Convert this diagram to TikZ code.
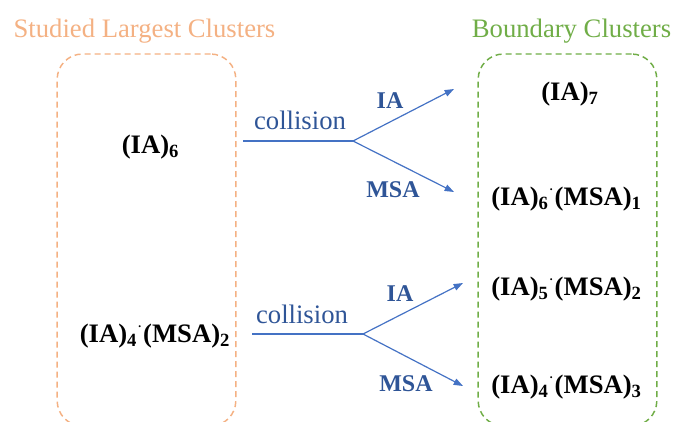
\documentclass[tikz,border=0pt]{standalone}
\usepackage{fontspec}
\IfFontExistsTF{LiberationSerif-Regular.ttf}
  {\setmainfont{LiberationSerif}[Extension=.ttf, UprightFont=*-Regular, BoldFont=*-Bold, ItalicFont=*-Italic, BoldItalicFont=*-BoldItalic]}
  {\setmainfont{Liberation Serif}}
\usepackage{tikz}
\usetikzlibrary{positioning, arrows.meta}

\definecolor{studiedorange}{HTML}{F4B183}
\definecolor{boundgreen}{HTML}{70AD47}
\definecolor{arrowblue}{HTML}{4472C4}
\definecolor{labelblue}{HTML}{2F5597}

\newcommand{\mdot}{\textsuperscript{$\cdot$}}

\begin{document}
\begin{tikzpicture}[
    x=0.75pt, y=-0.75pt,
    groupbox/.style={rectangle, draw, dashed, dash pattern=on 4.5pt off 3pt, line width=1.1pt, rounded corners=19pt, minimum width=134pt, minimum height=279pt},
    heading/.style={font=\fontsize{20}{24}\selectfont, inner sep=0pt, anchor=base},
    cluster/.style={font=\fontsize{20}{24}\selectfont\bfseries, inner sep=0pt, anchor=base},
    event/.style={font=\fontsize{20}{24}\selectfont, text=labelblue, inner sep=0pt, anchor=base},
    monomer/.style={font=\fontsize{18}{22}\selectfont\bfseries, text=labelblue, inner sep=0pt, anchor=base},
    arrow/.style={-{Triangle[length=7pt,width=5pt]}, arrowblue, line width=0.9pt},
    stem/.style={arrowblue, line width=0.9pt}
]
\useasboundingbox (0,0) rectangle (673,421);

% Group boxes and headings
\node[groupbox, draw=studiedorange] (studied) at (146.5,240) {};
\node[groupbox, draw=boundgreen] (boundary) at (567.5,240) {};
\node[heading, text=studiedorange] (studiedtitle) at (144.5,37) {Studied Largest Clusters};
\node[heading, text=boundgreen] (boundarytitle) at (571.5,37) {Boundary Clusters};

% Studied clusters
\node[cluster] (ia6) at (150.5,153) {(IA)\textsubscript{6}};
\node[cluster] (ia4msa2) at (155,342) {(IA)\textsubscript{4}\mdot(MSA)\textsubscript{2}};

% Boundary clusters
\node[cluster] (ia7) at (570,100) {(IA)\textsubscript{7}};
\node[cluster] (ia6msa1) at (566.5,205) {(IA)\textsubscript{6}\mdot(MSA)\textsubscript{1}};
\node[cluster] (ia5msa2) at (566.5,295) {(IA)\textsubscript{5}\mdot(MSA)\textsubscript{2}};
\node[cluster] (ia4msa3) at (566.5,393) {(IA)\textsubscript{4}\mdot(MSA)\textsubscript{3}};

% Collision of (IA)6
\coordinate (startA) at (243,141);
\coordinate (forkA) at (353,141);
\coordinate (endAia) at (454,89);
\coordinate (endAmsa) at (454,192);
\draw[stem] (startA) -- (forkA);
\draw[arrow] (forkA) -- (endAia);
\draw[arrow] (forkA) -- (endAmsa);
\node[event] (collA) at (300,129) {collision};
\node[monomer] (iaA) at (390,108) {IA};
\node[monomer] (msaA) at (393,197) {MSA};

% Collision of (IA)4(MSA)2
\coordinate (startB) at (252,334);
\coordinate (forkB) at (363,334);
\coordinate (endBia) at (463,283);
\coordinate (endBmsa) at (463,386);
\draw[stem] (startB) -- (forkB);
\draw[arrow] (forkB) -- (endBia);
\draw[arrow] (forkB) -- (endBmsa);
\node[event] (collB) at (302,323) {collision};
\node[monomer] (iaB) at (400,301) {IA};
\node[monomer] (msaB) at (406,391) {MSA};

\end{tikzpicture}
\end{document}
